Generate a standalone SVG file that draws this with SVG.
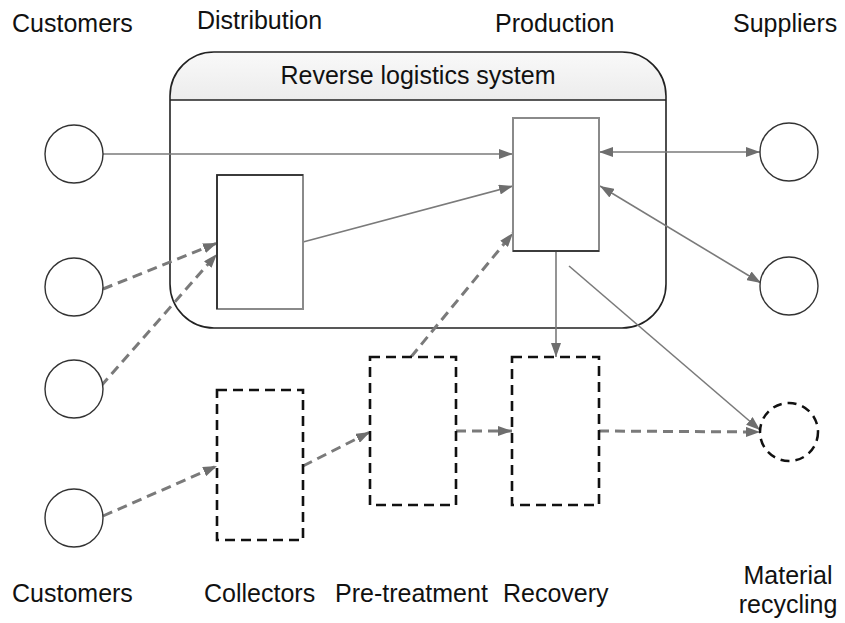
<svg xmlns="http://www.w3.org/2000/svg" width="845" height="623" viewBox="0 0 845 623">
  <style>
    .label { font-family: "Liberation Sans", Arial, sans-serif; font-size: 25px; fill: #111; }
    .actor { fill: #fff; stroke: #333; stroke-width: 1.4; }
    .actor-new { fill: #fff; stroke: #111; stroke-width: 2.5; stroke-dasharray: 9 6; }
    .unit { fill: #fff; stroke: #8a8a8a; stroke-width: 2; }
    .unit-new { fill: #fff; stroke: #111; stroke-width: 2.6; stroke-dasharray: 10 6; }
    .edge { fill: none; stroke: #7a7a7a; stroke-width: 1.6; }
    .edge-new { fill: none; stroke: #7a7a7a; stroke-width: 3; stroke-dasharray: 10 6; }
  </style>
  <defs>
    <linearGradient id="headerFill" x1="0" y1="0" x2="0" y2="1">
      <stop offset="0" stop-color="#f9f9f9"/>
      <stop offset="1" stop-color="#ececec"/>
    </linearGradient>
    <marker id="arrow" viewBox="0 0 14 10" refX="14" refY="5" markerWidth="14" markerHeight="10" markerUnits="userSpaceOnUse" orient="auto-start-reverse">
      <path d="M0,0 L14,5 L0,10 z" fill="#6e6e6e"/>
    </marker>
  </defs>

  <!-- column headings -->
  <g id="headings">
    <text class="label" x="12" y="32">Customers</text>
    <text class="label" x="197" y="29">Distribution</text>
    <text class="label" x="495" y="32">Production</text>
    <text class="label" x="733" y="32">Suppliers</text>
    <text class="label" x="12" y="602">Customers</text>
    <text class="label" x="204" y="602">Collectors</text>
    <text class="label" x="335" y="602">Pre-treatment</text>
    <text class="label" x="503" y="602">Recovery</text>
    <text class="label" x="788" y="584" text-anchor="middle">Material</text>
    <text class="label" x="788" y="613" text-anchor="middle">recycling</text>
  </g>

  <!-- system boundary -->
  <g id="system">
    <path d="M170,100 L170,96 A44,44 0 0 1 214,52 L622,52 A44,44 0 0 1 666,96 L666,100 Z" fill="url(#headerFill)"/>
    <rect x="170" y="52" width="496" height="276" rx="44" ry="44" fill="none" stroke="#222" stroke-width="1.6"/>
    <line x1="170" y1="100" x2="666" y2="100" stroke="#222" stroke-width="1.6"/>
    <text class="label" x="418" y="84" text-anchor="middle">Reverse logistics system</text>
  </g>

  <!-- connectors -->
  <g id="connectors">
    <path class="edge" d="M103,154 L513,154" marker-end="url(#arrow)"/>
    <path class="edge" d="M303,242 L513,186" marker-end="url(#arrow)"/>
    <path class="edge" d="M599,152 L760,152" marker-start="url(#arrow)" marker-end="url(#arrow)"/>
    <path class="edge" d="M600,186 L761,283" marker-start="url(#arrow)" marker-end="url(#arrow)"/>
    <path class="edge" d="M556,251 L556,357" marker-end="url(#arrow)"/>
    <path class="edge" d="M569,266 L760,430" marker-end="url(#arrow)"/>
    <path class="edge-new" d="M103,289 L217,243" marker-end="url(#arrow)"/>
    <path class="edge-new" d="M101,386 L217,254" marker-end="url(#arrow)"/>
    <path class="edge-new" d="M103,516 L217,466" marker-end="url(#arrow)"/>
    <path class="edge-new" d="M303,466 L370,432" marker-end="url(#arrow)"/>
    <path class="edge-new" d="M411,357 L513,233" marker-end="url(#arrow)"/>
    <path class="edge-new" d="M456,431 L512,431" marker-end="url(#arrow)"/>
    <path class="edge-new" d="M599,431 L760,432" marker-end="url(#arrow)"/>
  </g>

  <!-- customers -->
  <g id="customer-1"><circle class="actor" cx="74" cy="154" r="29"/></g>
  <g id="customer-2"><circle class="actor" cx="74" cy="287" r="29"/></g>
  <g id="customer-3"><circle class="actor" cx="74" cy="389" r="29"/></g>
  <g id="customer-4"><circle class="actor" cx="74" cy="518" r="29"/></g>

  <!-- suppliers and recycling -->
  <g id="supplier-1"><circle class="actor" cx="789" cy="152" r="29"/></g>
  <g id="supplier-2"><circle class="actor" cx="789" cy="286" r="29"/></g>
  <g id="material-recycling"><circle class="actor-new" cx="789" cy="432" r="29"/></g>

  <!-- existing units -->
  <g id="distribution">
    <rect class="unit" x="217" y="175" width="86" height="134"/>
    <path d="M217,309 L217,175 L303,175" fill="none" stroke="#222" stroke-width="1.6"/>
  </g>
  <g id="production">
    <rect class="unit" x="513" y="118" width="86" height="133"/>
    <line x1="513" y1="251" x2="599" y2="251" stroke="#222" stroke-width="1.6"/>
  </g>

  <!-- new units -->
  <g id="collectors"><rect class="unit-new" x="217" y="390" width="86" height="150"/></g>
  <g id="pre-treatment"><rect class="unit-new" x="370" y="357" width="86" height="148"/></g>
  <g id="recovery"><rect class="unit-new" x="512" y="357" width="87" height="148"/></g>
</svg>
